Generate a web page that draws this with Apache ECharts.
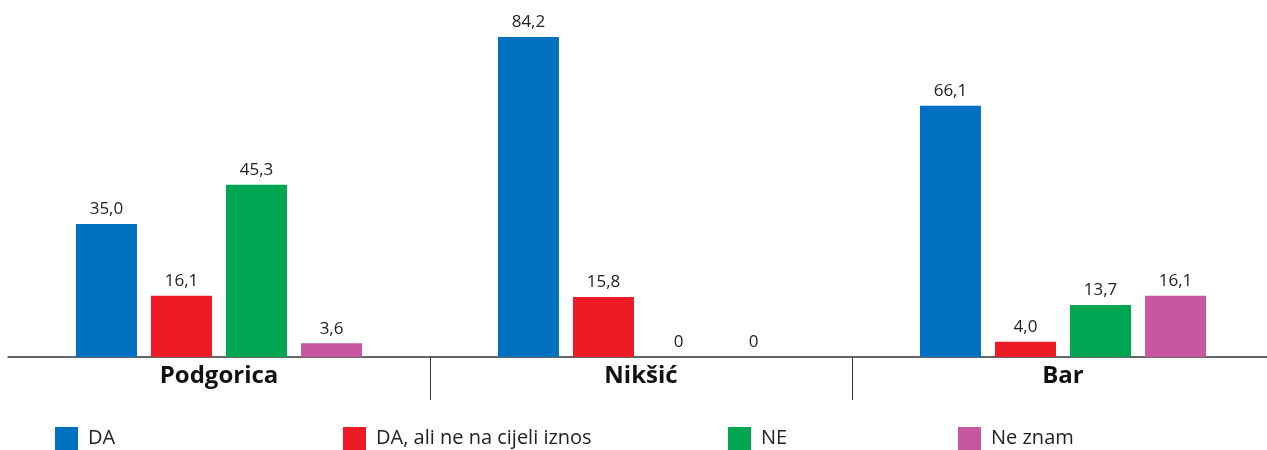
<!DOCTYPE html>
<html>
<head>
<meta charset="utf-8">
<script src="https://cdn.jsdelivr.net/npm/echarts@6/dist/echarts.min.js"></script>
<style>
  html, body { margin: 0; padding: 0; background: #fff; }
  #chart { width: 1267px; height: 450px; }
</style>
</head>
<body>
<div id="chart"></div>
<script>
var categories = ['Podgorica', 'Nikšić', 'Bar'];
var seriesNames = ['DA', 'DA, ali ne na cijeli iznos', 'NE', 'Ne znam'];
var daValues = [35.0, 84.2, 66.1];
var daAliValues = [16.1, 15.8, 4.0];
var neValues = [45.3, 0, 13.7];
var neZnamValues = [3.6, 0, 16.1];
var colors = ['#0070c0', '#ed1c24', '#00a651', '#c657a0'];
var legendLeft = [55, 343, 728, 958];

var FONT = '"Open Sans", sans-serif';

var chart = echarts.init(document.getElementById('chart'));

function fmt(p) {
  if (p.value === 0) return '0';
  return p.value.toFixed(1).replace('.', ',');
}

var allValues = [daValues, daAliValues, neValues, neZnamValues];
var series = allValues.map(function (vals, i) {
  return {
    name: seriesNames[i],
    type: 'bar',
    data: vals,
    barWidth: 61,
    barGap: '23%',
    itemStyle: { color: colors[i] },
    label: {
      show: true,
      position: 'top',
      distance: 6,
      formatter: fmt,
      color: '#222',
      fontSize: 17,
      fontFamily: FONT
    }
  };
});

var legends = seriesNames.map(function (n, i) {
  return {
    data: [n],
    left: legendLeft[i],
    top: 427,
    padding: 0,
    icon: 'rect',
    itemWidth: 23,
    itemHeight: 23,
    selectedMode: false,
    textStyle: { color: '#222', fontSize: 20, fontFamily: FONT, padding: [0, 0, 0, 5] }
  };
});

var option = {
  animation: false,
  color: colors,
  legend: legends,
  grid: { left: 8, right: -7, top: 15, bottom: 93, outerBoundsMode: 'none' },
  xAxis: {
    type: 'category',
    data: categories,
    axisLine: { lineStyle: { color: '#333', width: 1.5 } },
    axisTick: {
      show: true,
      length: 43,
      interval: function (index) { return index !== 0; },
      lineStyle: { color: '#333', width: 1 }
    },
    axisLabel: {
      color: '#111',
      fontSize: 24,
      fontWeight: 'bold',
      fontFamily: FONT,
      margin: 7
    }
  },
  yAxis: {
    type: 'value',
    min: 0,
    max: 90,
    show: false,
    splitLine: { show: false }
  },
  series: series
};

chart.setOption(option);
</script>
</body>
</html>
